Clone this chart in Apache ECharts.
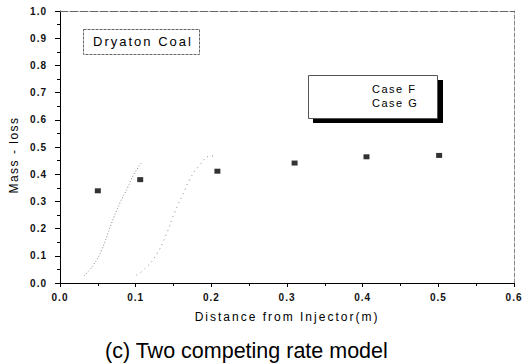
<!DOCTYPE html>
<html><head><meta charset="utf-8">
<script src="https://cdn.jsdelivr.net/npm/echarts@6/dist/echarts.min.js"></script>
<style>html,body{margin:0;padding:0;background:#fff}#c{width:524px;height:364px}</style>
</head><body><div id="c"></div>
<script>
// Data
var expX = [0.050, 0.106, 0.208, 0.310, 0.405, 0.501];
var expY = [0.339, 0.380, 0.411, 0.441, 0.464, 0.469];
var caseFX = [0.032, 0.044, 0.055, 0.068, 0.079, 0.090, 0.097, 0.109];
var caseFY = [0.027, 0.066, 0.121, 0.219, 0.293, 0.354, 0.397, 0.446];
var caseGX = [0.101, 0.108, 0.125, 0.140, 0.151, 0.165, 0.171, 0.183, 0.200, 0.207];
var caseGY = [0.029, 0.042, 0.094, 0.176, 0.256, 0.342, 0.379, 0.428, 0.467, 0.467];
var legendNames = ['Case F', 'Case G'];
var xTicks = ['0.0', '0.1', '0.2', '0.3', '0.4', '0.5', '0.6'];
var yTicks = ['0.0', '0.1', '0.2', '0.3', '0.4', '0.5', '0.6', '0.7', '0.8', '0.9', '1.0'];
var xName = 'Distance from Injector(m)';
var yName = 'Mass - loss';
var noteText = 'Dryaton Coal';
var titleText = '(c) Two competing rate model';

function pairs(xs, ys) { return xs.map(function (x, i) { return [x, ys[i]]; }); }

var FONT = 'Liberation Sans, Arial, sans-serif';
var chart = echarts.init(document.getElementById('c'), null, { renderer: 'svg' });

// letter spacing (the reference text is typeset with wide tracking)
function spacingFor(t) {
  if (t === noteText || t === xName) return 2;
  if (t === yName || legendNames.indexOf(t) >= 0) return 1.5;
  if (xTicks.indexOf(t) >= 0 || yTicks.indexOf(t) >= 0) return 1;
  return 0;
}
function applySpacing() {
  var texts = document.querySelectorAll('#c svg text');
  for (var i = 0; i < texts.length; i++) {
    var s = spacingFor(texts[i].textContent);
    if (s) texts[i].setAttribute('letter-spacing', s + 'px');
  }
}
chart.on('finished', applySpacing);

var lbl = { fontFamily: FONT, fontSize: 10, fontWeight: 'bold', color: '#111' };
chart.setOption({
  animation: false,
  backgroundColor: '#fff',
  title: {
    text: titleText,
    left: 100, top: 335,
    textStyle: { fontFamily: FONT, fontSize: 21.5, fontWeight: 'normal', color: '#000' }
  },
  grid: { left: 60, right: 8, top: 11, bottom: 81 },
  legend: {
    data: legendNames,
    left: 326, top: 83,
    orient: 'vertical',
    padding: 0,
    itemGap: 3,
    itemWidth: 40, itemHeight: 12,
    itemStyle: { opacity: 0 },
    lineStyle: { opacity: 0 },
    z: 20,
    textStyle: { fontFamily: FONT, fontSize: 11, color: '#000' }
  },
  graphic: [
    { type: 'rect', shape: { x: 313, y: 80, width: 130, height: 43 },
      style: { fill: '#000' }, z: 10 },
    { type: 'rect', shape: { x: 308.5, y: 75.5, width: 129, height: 43 },
      style: { fill: '#fff', stroke: '#555', lineWidth: 1 }, z: 11 },
    { type: 'rect', shape: { x: 83.5, y: 29.5, width: 116, height: 25 },
      style: { fill: '#fff', stroke: '#666', lineWidth: 1, lineDash: [3, 1] }, z: 10 },
    { type: 'text', x: 93, y: 35,
      style: { text: noteText, fill: '#000', font: '13px ' + FONT }, z: 11 }
  ],
  xAxis: [{
    type: 'value', min: 0, max: 0.6, interval: 0.1,
    name: xName, nameLocation: 'middle', nameGap: 28,
    nameTextStyle: { fontFamily: FONT, fontSize: 12, color: '#000' },
    axisLine: { show: true, onZero: false, lineStyle: { color: '#000', width: 1 } },
    axisTick: { show: true, inside: false, length: 4, lineStyle: { color: '#000' } },
    minorTick: { show: true, splitNumber: 2, length: 3, lineStyle: { color: '#000' } },
    splitLine: { show: false },
    axisLabel: Object.assign({ margin: 9, formatter: function (v) { return xTicks[Math.round(v * 10)]; } }, lbl)
  }, {
    type: 'value', min: 0, max: 0.6, position: 'top',
    axisLine: { show: true, onZero: false, lineStyle: { color: '#666', width: 1, type: [8, 2] } },
    axisTick: { show: false }, axisLabel: { show: false }, splitLine: { show: false }
  }],
  yAxis: [{
    type: 'value', min: 0, max: 1.0, interval: 0.1,
    name: yName, nameLocation: 'middle', nameGap: 40,
    nameTextStyle: { fontFamily: FONT, fontSize: 12, color: '#000', padding: [0, 16, 0, 0] },
    axisLine: { show: true, onZero: false, lineStyle: { color: '#000', width: 1 } },
    axisTick: { show: true, inside: false, length: 5, lineStyle: { color: '#000' } },
    minorTick: { show: true, splitNumber: 2, length: 3, lineStyle: { color: '#000' } },
    splitLine: { show: false },
    axisLabel: Object.assign({ margin: 13, formatter: function (v) { return yTicks[Math.round(v * 10)]; } }, lbl)
  }, {
    type: 'value', min: 0, max: 1.0, position: 'right',
    axisLine: { show: true, onZero: false, lineStyle: { color: '#888', width: 1, type: [4, 2] } },
    axisTick: { show: false }, axisLabel: { show: false }, splitLine: { show: false }
  }],
  series: [
    { name: 'Experiment', type: 'scatter', data: pairs(expX, expY),
      symbol: 'rect', symbolSize: [6, 5], itemStyle: { color: '#000' }, z: 5 },
    { name: legendNames[0], type: 'line', data: pairs(caseFX, caseFY), smooth: true,
      showSymbol: false, symbol: 'none', lineStyle: { color: '#888', width: 1, type: [1, 2] } },
    { name: legendNames[1], type: 'line', data: pairs(caseGX, caseGY), smooth: true,
      showSymbol: false, symbol: 'none', lineStyle: { color: '#888', width: 1, type: [1, 4] } }
  ]
});
applySpacing();
setTimeout(applySpacing, 0);
</script></body></html>
